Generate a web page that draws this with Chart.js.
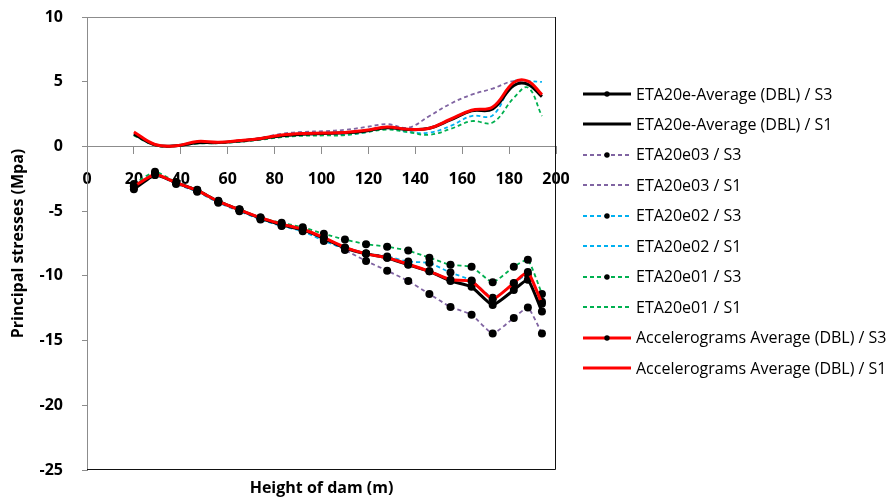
<!DOCTYPE html>
<html>
<head>
<meta charset="utf-8">
<script src="https://cdn.jsdelivr.net/npm/chart.js@4.4.1/dist/chart.umd.min.js"></script>
<style>
  html, body { margin: 0; padding: 0; background: #fff; }
</style>
</head>
<body>
<canvas id="chart" width="890" height="500"></canvas>
<script>
// Heights of dam (m) where stresses were sampled
const heights = [20, 29, 38, 47, 56, 65, 74, 83, 92, 101, 110, 119, 128, 137, 146, 155, 164, 173, 182, 188, 194];

// S3 (compression) values, Mpa
const avgS3 = [-3.3, -2.2, -2.8, -3.4, -4.25, -4.9, -5.55, -6.05, -6.45, -7.1, -7.85, -8.3, -8.6, -9.15, -9.65, -10.4, -10.85, -12.25, -11.1, -10.3, -12.75];
const e03S3 = [-3.0, -2.1, -2.8, -3.4, -4.25, -4.9, -5.6, -6.1, -6.5, -7.2, -8.0, -8.85, -9.6, -10.4, -11.4, -12.4, -13.0, -14.45, -13.25, -12.45, -14.45];
const e02S3 = [-3.1, -2.2, -2.9, -3.5, -4.35, -5.0, -5.65, -6.15, -6.55, -7.3, -7.9, -8.25, -8.5, -8.9, -9.0, -9.75, -10.35, -11.7, -10.6, -9.9, -12.0];
const e01S3 = [-2.9, -1.95, -2.75, -3.35, -4.2, -4.85, -5.5, -5.9, -6.25, -6.75, -7.2, -7.55, -7.75, -8.05, -8.6, -9.15, -9.3, -10.5, -9.3, -8.75, -11.4];
const accS3 = [-3.1, -2.15, -2.8, -3.4, -4.25, -4.9, -5.5, -6.0, -6.4, -7.05, -7.8, -8.3, -8.6, -9.1, -9.65, -10.3, -10.4, -11.8, -10.55, -9.7, -12.15];

// S1 (tension) values, Mpa
const avgS1 = [0.95, 0.12, 0.05, 0.28, 0.3, 0.42, 0.6, 0.82, 0.95, 1.0, 1.05, 1.2, 1.45, 1.3, 1.4, 2.05, 2.75, 2.9, 4.7, 4.8, 3.85];
const e03S1 = [0.95, 0.1, 0.05, 0.3, 0.32, 0.45, 0.65, 0.98, 1.12, 1.18, 1.28, 1.5, 1.72, 1.45, 2.35, 3.3, 4.0, 4.47, 5.05, 4.85, 4.0];
const e02S1 = [0.9, 0.1, 0.03, 0.25, 0.28, 0.38, 0.55, 0.75, 0.88, 0.9, 0.9, 1.1, 1.4, 1.12, 1.07, 1.58, 2.35, 2.4, 5.0, 5.05, 4.98];
const e01S1 = [0.85, 0.08, 0.02, 0.22, 0.25, 0.35, 0.52, 0.72, 0.82, 0.85, 0.87, 1.1, 1.3, 1.1, 0.9, 1.35, 1.95, 1.85, 3.75, 4.55, 2.35];
const accS1 = [1.12, 0.15, 0.05, 0.38, 0.32, 0.45, 0.62, 0.88, 1.0, 1.03, 1.08, 1.25, 1.5, 1.32, 1.4, 2.1, 2.8, 3.05, 4.95, 5.05, 4.0];

const yTicks = [-25, -20, -15, -10, -5, 0, 5, 10];
const xTicks = [0, 20, 40, 60, 80, 100, 120, 140, 160, 180, 200];

// legend order follows the reference; "order" controls what sits on top
const series = [
  {label: 'ETA20e-Average (DBL) / S3', values: avgS3, color: '#000000', width: 3, dash: [], marker: true, order: 2},
  {label: 'ETA20e-Average (DBL) / S1', values: avgS1, color: '#000000', width: 3, dash: [], marker: false, order: 3},
  {label: 'ETA20e03 / S3', values: e03S3, color: '#8064A2', width: 1.8, dash: [4, 3], marker: true, order: 8},
  {label: 'ETA20e03 / S1', values: e03S1, color: '#8064A2', width: 1.8, dash: [4, 3], marker: false, order: 9},
  {label: 'ETA20e02 / S3', values: e02S3, color: '#00B0F0', width: 1.8, dash: [4, 3], marker: true, order: 6},
  {label: 'ETA20e02 / S1', values: e02S1, color: '#00B0F0', width: 1.8, dash: [4, 3], marker: false, order: 7},
  {label: 'ETA20e01 / S3', values: e01S3, color: '#00B050', width: 1.8, dash: [4, 3], marker: true, order: 4},
  {label: 'ETA20e01 / S1', values: e01S1, color: '#00B050', width: 1.8, dash: [4, 3], marker: false, order: 5},
  {label: 'Accelerograms Average (DBL) / S3', values: accS3, color: '#FF0000', width: 3, dash: [], marker: true, order: 0},
  {label: 'Accelerograms Average (DBL) / S1', values: accS1, color: '#FF0000', width: 3, dash: [], marker: false, order: 1}
];

const FONT = '"Open Sans", "Liberation Sans", sans-serif';
const tickFont = {family: FONT, size: 16, weight: 'bold'};
const titleFont = {family: FONT, size: 16, weight: 'bold'};

// legend geometry (right of plot)
const LEG_X = 583;
const LEG_TOP = 94;
const LEG_STEP = 30.44;
const ICON_W = 48;

// little line (+ dot) sample used as legend symbol
function legendIcon(s) {
  const c = document.createElement('canvas');
  c.width = ICON_W; c.height = 14;
  const g = c.getContext('2d');
  g.strokeStyle = s.color;
  g.lineWidth = s.width;
  g.setLineDash(s.dash);
  g.beginPath();
  g.moveTo(0, 7);
  g.lineTo(ICON_W, 7);
  g.stroke();
  if (s.marker) {
    g.fillStyle = '#000';
    g.beginPath();
    g.arc(ICON_W / 2, 7, 2.7, 0, Math.PI * 2);
    g.fill();
  }
  return c;
}
const icons = series.map(legendIcon);

const sideLegend = {
  id: 'sideLegend',
  afterDraw(chart) {
    const {ctx} = chart;
    ctx.save();
    ctx.font = '16px ' + FONT;
    ctx.textBaseline = 'middle';
    ctx.textAlign = 'left';
    ctx.fillStyle = '#000';
    series.forEach((s, i) => {
      const y = LEG_TOP + i * LEG_STEP;
      ctx.drawImage(icons[i], LEG_X, Math.round(y) - 7);
      ctx.fillText(s.label, LEG_X + 53, y + 1);
    });
    ctx.restore();
  }
};

const plotBorder = {
  id: 'plotBorder',
  beforeDatasetsDraw(chart) {
    const {ctx, chartArea: a} = chart;
    ctx.save();
    ctx.lineWidth = 1;
    ctx.strokeStyle = '#8c8c8c';
    ctx.beginPath();
    ctx.moveTo(a.left, Math.round(a.top) + 0.5);
    ctx.lineTo(a.right, Math.round(a.top) + 0.5);
    ctx.stroke();
    ctx.strokeStyle = '#111';
    ctx.beginPath();
    ctx.moveTo(Math.round(a.right) - 0.5, a.top);
    ctx.lineTo(Math.round(a.right) - 0.5, Math.round(a.bottom) - 0.5);
    ctx.lineTo(a.left, Math.round(a.bottom) - 0.5);
    ctx.stroke();
    ctx.restore();
  }
};

const datasets = series.map(s => ({
  label: s.label,
  data: heights.map((h, i) => ({x: h, y: s.values[i]})),
  borderColor: s.color,
  backgroundColor: s.color,
  borderWidth: s.width,
  borderDash: s.dash,
  pointRadius: s.marker ? 4 : 0,
  pointBackgroundColor: '#000',
  pointBorderColor: '#000',
  pointBorderWidth: 0,
  tension: s.marker ? 0.15 : 0.4,
  fill: false,
  order: s.order
}));

new Chart(document.getElementById('chart'), {
  type: 'line',
  data: {datasets},
  options: {
    responsive: false,
    animation: false,
    events: [],
    layout: {padding: {top: 17, right: 334, bottom: 0, left: 0}},
    scales: {
      x: {
        type: 'linear',
        min: 0,
        max: 200,
        position: {y: 0},
        afterBuildTicks: (axis) => { axis.ticks = xTicks.map(v => ({value: v})); },
        ticks: {color: '#000', padding: 16, font: tickFont},
        grid: {drawOnChartArea: false, tickLength: 7, color: '#8c8c8c'},
        border: {color: '#8c8c8c'}
      },
      y: {
        min: -25,
        max: 10,
        afterBuildTicks: (axis) => { axis.ticks = yTicks.map(v => ({value: v})); },
        afterFit: (axis) => {
          axis.width = 87;
          axis.paddingTop = 0;
          axis.paddingBottom = 0;
        },
        ticks: {color: '#000', padding: 19, font: tickFont},
        grid: {drawOnChartArea: false, tickLength: 5, color: '#8c8c8c'},
        border: {color: '#8c8c8c'},
        title: {
          display: true,
          text: 'Principal stresses (Mpa)',
          color: '#000',
          padding: {top: 8.4, bottom: 0},
          font: titleFont
        }
      }
    },
    plugins: {
      tooltip: {enabled: false},
      legend: {display: false},
      title: {
        display: true,
        position: 'bottom',
        fullSize: false,
        text: 'Height of dam (m)',
        color: '#000',
        padding: {top: 8.4, bottom: 2.4},
        font: titleFont
      }
    }
  },
  plugins: [plotBorder, sideLegend]
});
</script>
</body>
</html>
